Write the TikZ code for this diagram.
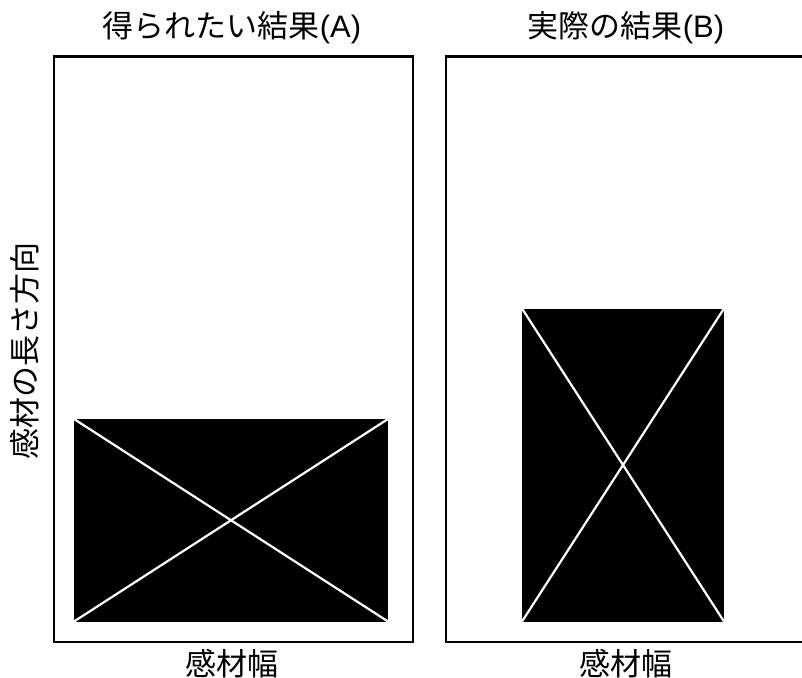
\documentclass[tikz,border=0pt]{standalone}
\usepackage{fontspec}
\setmainfont{Noto Sans CJK JP}
\newfontfamily\latfont{Liberation Sans}
\begin{document}
\begin{tikzpicture}[x=1pt,y=-1pt,
  frame/.style={draw=black,line width=2.5pt},
  blk/.style={fill=black},
  diag/.style={draw=white,line width=2.2pt},
  lbl/.style={font=\fontsize{31}{34}\selectfont,inner sep=0pt}]
\useasboundingbox (0,0) rectangle (802,677);
\clip (0,0) rectangle (802,677);
% frames
\draw[frame] (54,56.5) rectangle (413,642);
\draw[frame] (446,56.5) rectangle (820,642);
% left block
\coordinate (a1) at (74,419);
\coordinate (a2) at (388,419);
\coordinate (a3) at (388,621.5);
\coordinate (a4) at (74,621.5);
\fill[blk] (a1) rectangle (a3);
\draw[diag] (a1) -- (a3);
\draw[diag] (a2) -- (a4);
% right block
\coordinate (b1) at (522,308.5);
\coordinate (b2) at (724,308.5);
\coordinate (b3) at (724,621.5);
\coordinate (b4) at (522,621.5);
\fill[blk] (b1) rectangle (b3);
\draw[diag] (b1) -- (b3);
\draw[diag] (b2) -- (b4);
% labels
\node[lbl] (tA) at (232,28) {得られたい結果{\latfont(A)}};
\node[lbl] (tB) at (626,28) {実際の結果{\latfont(B)}};
\node[lbl] (wA) at (232,664) {感材幅};
\node[lbl] (wB) at (626,664) {感材幅};
\node[lbl,rotate=90] (len) at (25,351) {感材の長さ方向};
\end{tikzpicture}
\end{document}
